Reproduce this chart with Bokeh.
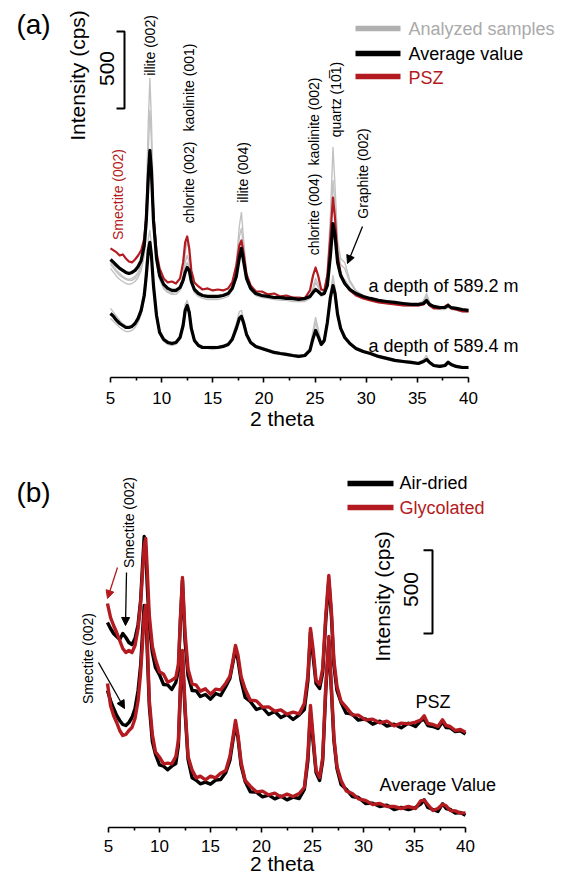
import math
from bokeh.plotting import figure
from bokeh.models import Range1d, FixedTicker, Label, Arrow, NormalHead
from bokeh.layouts import column
from bokeh.embed import file_html
from bokeh.resources import INLINE

# ---------------- DATA ----------------
X_TICKS = [5, 10, 15, 20, 25, 30, 35, 40]
X_MINOR = [7.5, 12.5, 17.5, 22.5, 27.5, 32.5, 37.5]

# Panel (a): 2-theta grid and intensities (cps, stacked as plotted)
TWO_THETA_A = [5.0, 5.3, 5.6, 5.9, 6.2, 6.5, 6.8, 7.1, 7.4, 7.7,
               8.0, 8.3, 8.5, 8.7, 8.85, 9.0, 9.2, 9.5, 9.8, 10.2,
               10.6, 11.0, 11.4, 11.8, 12.1, 12.3, 12.5, 12.7, 12.9, 13.2,
               13.6, 14.0, 14.5, 15.0, 15.5, 16.0, 16.5, 16.9, 17.3, 17.6,
               17.8, 18.0, 18.3, 18.7, 19.2, 19.8, 20.4, 21.0, 21.6, 22.2,
               22.8, 23.4, 24.0, 24.5, 24.8, 25.05, 25.3, 25.6, 25.9, 26.2,
               26.5, 26.75, 26.95, 27.2, 27.5, 27.9, 28.4, 29.0, 29.7, 30.4,
               31.2, 32.0, 32.8, 33.6, 34.4, 35.1, 35.6, 35.9, 36.2, 36.6,
               37.2, 37.7, 38.0, 38.3, 38.8, 39.4, 40.0]

AVG_5892 = [767, 748, 728, 709, 696, 683, 676, 683, 696, 722,
            761, 858, 1021, 1313, 1476, 1346, 1021, 774, 663, 605,
            579, 566, 566, 585, 631, 683, 715, 696, 624, 572,
            546, 533, 527, 527, 527, 533, 546, 579, 657, 780,
            839, 761, 644, 579, 546, 533, 527, 520, 520, 514,
            514, 507, 514, 527, 553, 572, 559, 540, 546, 598,
            793, 1001, 923, 748, 663, 611, 572, 546, 527, 514,
            501, 494, 488, 481, 475, 475, 481, 501, 475, 462,
            455, 455, 468, 455, 449, 442, 436]

PSZ_5892 = [839, 826, 813, 793, 800, 774, 754, 748, 767, 793,
            826, 904, 1053, 1333, 1463, 1346, 1053, 813, 709, 644,
            618, 624, 611, 644, 748, 878, 917, 839, 696, 618,
            592, 572, 579, 566, 572, 566, 579, 618, 728, 858,
            891, 813, 670, 598, 560, 559, 540, 546, 527, 533,
            520, 520, 514, 566, 663, 715, 663, 572, 566, 663,
            923, 1170, 1034, 793, 676, 611, 566, 533, 514, 501,
            488, 481, 475, 468, 468, 468, 475, 494, 468, 449,
            449, 462, 475, 449, 442, 429, 429]

SAMPLE1_5892 = [748, 722, 696, 676, 657, 644, 637, 644, 657, 683,
                735, 891, 1151, 1671, 1944, 1671, 1118, 774, 644, 579,
                553, 546, 553, 585, 663, 806, 891, 813, 657, 572,
                540, 527, 520, 520, 520, 527, 546, 598, 748, 988,
                1073, 904, 683, 585, 546, 533, 520, 514, 514, 507,
                507, 501, 507, 527, 585, 644, 605, 546, 566, 683,
                1053, 1495, 1248, 891, 774, 748, 631, 566, 533, 514,
                501, 488, 481, 475, 468, 475, 501, 546, 488, 462,
                455, 455, 462, 455, 449, 442, 436]

SAMPLE2_5892 = [735, 709, 683, 663, 650, 637, 631, 631, 644, 670,
                722, 839, 1053, 1476, 1736, 1541, 1073, 774, 650, 585,
                559, 553, 559, 585, 644, 748, 793, 748, 631, 566,
                540, 527, 520, 514, 520, 527, 540, 585, 709, 917,
                969, 852, 663, 579, 546, 527, 520, 514, 507, 501,
                501, 494, 501, 520, 572, 618, 585, 540, 559, 657,
                943, 1281, 1118, 839, 735, 709, 618, 559, 527, 507,
                494, 488, 475, 468, 468, 468, 488, 527, 481, 462,
                449, 449, 462, 449, 442, 436, 429]

SAMPLE3_5892 = [709, 683, 657, 637, 624, 611, 605, 611, 624, 650,
                696, 793, 943, 1216, 1378, 1268, 969, 748, 637, 579,
                553, 540, 540, 566, 618, 709, 748, 722, 611, 553,
                527, 514, 507, 507, 507, 514, 527, 566, 644, 787,
                826, 748, 624, 566, 533, 520, 514, 507, 501, 501,
                494, 494, 494, 514, 553, 579, 559, 527, 540, 605,
                813, 988, 904, 735, 657, 637, 585, 546, 520, 501,
                488, 481, 475, 468, 462, 462, 481, 514, 475, 455,
                442, 442, 455, 442, 436, 429, 423]

AVG_5894 = [416, 397, 371, 351, 338, 325, 325, 332, 351, 384,
            436, 533, 663, 826, 878, 793, 598, 403, 293, 247,
            228, 221, 228, 260, 338, 436, 468, 423, 319, 241,
            208, 195, 195, 195, 195, 202, 215, 247, 319, 384,
            397, 358, 280, 228, 202, 189, 176, 163, 156, 150,
            143, 137, 143, 176, 254, 306, 267, 215, 241, 358,
            520, 598, 546, 410, 319, 260, 221, 189, 169, 156,
            137, 124, 111, 104, 98, 91, 104, 117, 98, 78,
            72, 78, 98, 85, 72, 65, 65]

SAMPLE1_5894 = [449, 423, 397, 371, 351, 338, 332, 338, 358, 397,
                462, 579, 748, 904, 956, 858, 631, 416, 306, 254,
                234, 228, 234, 273, 371, 475, 501, 449, 338, 254,
                215, 202, 202, 202, 202, 208, 221, 267, 351, 429,
                436, 384, 293, 234, 208, 195, 182, 169, 163, 156,
                150, 143, 150, 189, 306, 390, 319, 228, 247, 371,
                553, 663, 585, 436, 332, 273, 228, 195, 176, 163,
                143, 130, 117, 111, 104, 98, 117, 143, 104, 85,
                78, 85, 111, 91, 78, 72, 72]

SAMPLE2_5894 = [384, 364, 345, 325, 312, 299, 299, 306, 325, 358,
                410, 514, 644, 787, 826, 748, 566, 384, 280, 234,
                215, 208, 215, 247, 345, 455, 481, 436, 312, 234,
                202, 189, 189, 182, 189, 195, 208, 241, 319, 397,
                410, 364, 273, 221, 195, 182, 169, 156, 150, 143,
                137, 130, 137, 169, 273, 358, 293, 208, 228, 345,
                527, 631, 566, 416, 312, 254, 215, 182, 163, 150,
                130, 117, 104, 98, 91, 85, 98, 117, 91, 72,
                65, 72, 91, 78, 65, 59, 59]

# Panel (b): 2-theta grid and intensities (cps, stacked as plotted)
TWO_THETA_B = [4.9, 5.2, 5.5, 5.8, 6.1, 6.4, 6.7, 7.0, 7.3, 7.6,
               7.9, 8.15, 8.35, 8.5, 8.65, 8.8, 9.0, 9.3, 9.6, 10.0,
               10.4, 10.8, 11.2, 11.6, 11.85, 12.05, 12.25, 12.5, 12.8, 13.2,
               13.6, 14.0, 14.5, 15.0, 15.5, 16.0, 16.5, 16.9, 17.2, 17.45,
               17.7, 18.0, 18.4, 18.9, 19.5, 20.1, 20.7, 21.3, 21.9, 22.5,
               23.1, 23.7, 24.2, 24.55, 24.8, 25.05, 25.35, 25.7, 26.0, 26.3,
               26.6, 26.85, 27.1, 27.4, 27.8, 28.3, 28.9, 29.5, 30.2, 30.9,
               31.6, 32.3, 33.0, 33.7, 34.4, 35.1, 35.6, 35.95, 36.3, 36.8,
               37.3, 37.75, 38.1, 38.5, 39.0, 39.5, 40.0]

PSZ_AIR = [1230, 1194, 1164, 1146, 1128, 1164, 1140, 1110, 1098, 1134,
           1218, 1362, 1590, 1746, 1674, 1452, 1212, 1050, 960, 916,
           858, 856, 828, 870, 942, 1242, 1482, 1122, 912, 822,
           820, 786, 798, 770, 804, 792, 846, 894, 990, 1074,
           1002, 882, 780, 756, 708, 720, 678, 696, 660, 678,
           648, 676, 708, 882, 1170, 1032, 864, 834, 930, 1242,
           1482, 1272, 972, 822, 750, 686, 680, 644, 652, 620,
           638, 608, 620, 598, 626, 606, 640, 650, 612, 606,
           594, 634, 600, 598, 576, 580, 560]

PSZ_GLY = [1344, 1260, 1212, 1170, 1122, 1074, 1050, 1062, 1050, 1092,
           1194, 1344, 1542, 1692, 1734, 1542, 1272, 1086, 1010, 934,
           920, 872, 884, 900, 978, 1254, 1500, 1170, 950, 862,
           854, 818, 832, 800, 830, 826, 866, 906, 1002, 1092,
           1032, 906, 830, 764, 760, 722, 724, 698, 706, 680,
           692, 682, 744, 912, 1194, 1074, 882, 858, 954, 1272,
           1512, 1302, 1002, 846, 756, 722, 676, 674, 646, 650,
           628, 638, 610, 626, 622, 632, 644, 670, 624, 618,
           606, 646, 612, 606, 582, 588, 572]

AVG_AIR = [822, 762, 714, 672, 642, 618, 612, 630, 660, 714,
           822, 972, 1182, 1332, 1302, 1062, 732, 516, 440, 376,
           368, 346, 368, 384, 492, 822, 1032, 702, 408, 298,
           284, 262, 272, 260, 284, 288, 330, 402, 522, 618,
           534, 372, 276, 214, 212, 184, 194, 172, 188, 166,
           182, 174, 228, 402, 690, 522, 330, 282, 402, 822,
           1122, 822, 522, 354, 258, 230, 186, 180, 144, 146,
           126, 134, 108, 120, 108, 120, 140, 166, 120, 108,
           96, 142, 114, 108, 86, 90, 74]

AVG_GLY = [864, 732, 672, 630, 582, 552, 558, 582, 600, 654,
           762, 930, 1122, 1272, 1332, 1122, 762, 558, 454, 422,
           382, 386, 382, 426, 522, 852, 1062, 732, 426, 344,
           298, 308, 286, 308, 298, 326, 342, 426, 540, 642,
           552, 390, 282, 248, 214, 218, 196, 206, 184, 200,
           186, 204, 240, 432, 732, 552, 342, 300, 420, 846,
           1146, 846, 540, 366, 282, 220, 204, 172, 162, 138,
           144, 126, 126, 114, 126, 114, 160, 164, 138, 102,
           114, 140, 130, 102, 100, 86, 88]

SCALE_BAR_CPS = 500

# ---------------- STYLE / LAYOUT ----------------
FONT = "Liberation Sans"
RED = "#b31b21"
GRAY = "#c2c2c2"
GRAY_TXT = "#aaaaaa"
W = 563
H_A = 440
H_B = 439


class Panel:
    def __init__(self, px5, px40, py0, cps_per_px, page_top, height,
                 label_standoff, title_standoff):
        self.ppd = (px40 - px5) / 35.0
        self.px5 = px5
        self.py0 = py0
        self.k = cps_per_px
        bottom_border = height - (py0 - page_top)
        self.p = figure(width=W, height=height,
                        x_range=Range1d(self.X(0), self.X(W)),
                        y_range=Range1d(0, self.Y(page_top)),
                        output_backend="svg", toolbar_location=None,
                        y_axis_location=None, min_border=0,
                        min_border_left=0, min_border_right=0,
                        min_border_top=0, min_border_bottom=bottom_border)
        p = self.p
        p.outline_line_color = None
        p.xgrid.visible = False
        p.ygrid.visible = False
        p.background_fill_color = "white"
        p.border_fill_color = "white"
        ax = p.xaxis[0]
        ax.ticker = FixedTicker(ticks=X_TICKS, minor_ticks=X_MINOR)
        ax.bounds = (5, 40)
        ax.axis_line_width = 1.6
        ax.axis_line_color = "black"
        ax.major_tick_line_width = 1.6
        ax.minor_tick_line_width = 1.6
        ax.major_tick_out = 5
        ax.major_tick_in = 0
        ax.minor_tick_out = 3
        ax.minor_tick_in = 0
        ax.major_label_text_font = FONT
        ax.major_label_text_font_size = "17px"
        ax.major_label_text_color = "black"
        ax.major_label_standoff = label_standoff
        ax.major_label_overrides = {t: str(t) for t in X_TICKS}
        ax.axis_label = "2 theta"
        ax.axis_label_text_font = FONT
        ax.axis_label_text_font_size = "21px"
        ax.axis_label_text_font_style = "normal"
        ax.axis_label_text_color = "black"
        ax.axis_label_standoff = title_standoff

    def X(self, px):
        return 5 + (px - self.px5) / self.ppd

    def Y(self, py):
        return (self.py0 - py) * self.k

    def text(self, px, py, s, size, color="black", angle=0.0, align="center",
             baseline="middle"):
        self.p.add_layout(Label(x=self.X(px), y=self.Y(py), text=s,
                                text_font=FONT, text_font_size=f"{size}px",
                                text_color=color, angle=angle,
                                text_align=align, text_baseline=baseline))

    def seg(self, x0, y0, x1, y1, color="black", width=1.6):
        self.p.line([self.X(x0), self.X(x1)], [self.Y(y0), self.Y(y1)],
                    line_color=color, line_width=width)

    def arrow(self, x0, y0, x1, y1, color="black"):
        self.p.add_layout(Arrow(end=NormalHead(size=8, fill_color=color,
                                               line_color=color),
                                x_start=self.X(x0), y_start=self.Y(y0),
                                x_end=self.X(x1), y_end=self.Y(y1),
                                line_color=color, line_width=1.3))

    def scale_bar(self, px, py_bottom, tick_len):
        b = self.Y(py_bottom)
        t = b + SCALE_BAR_CPS
        xb = self.X(px)
        xt = self.X(px - tick_len)
        self.p.line([xt, xb, xb, xt], [t, t, b, b], line_color="black",
                    line_width=2)


V = math.pi / 2

# ---------------- PANEL (a) ----------------
A = Panel(px5=110, px40=468, py0=377, cps_per_px=6.5, page_top=0, height=H_A,
          label_standoff=9, title_standoff=0)
pa = A.p
for s in (SAMPLE1_5892, SAMPLE2_5892, SAMPLE3_5892, SAMPLE1_5894, SAMPLE2_5894):
    pa.line(TWO_THETA_A, s, line_color=GRAY, line_width=1.4, line_join="round")
pa.line(TWO_THETA_A, PSZ_5892, line_color=RED, line_width=2.2, line_join="round")
pa.line(TWO_THETA_A, AVG_5892, line_color="black", line_width=3.2, line_join="round")
pa.line(TWO_THETA_A, AVG_5894, line_color="black", line_width=3.2, line_join="round")

A.text(33, 24, "(a)", 28)
A.text(77, 75, "Intensity (cps)", 21, angle=V)
A.text(106, 68, "500", 21, angle=V)
A.scale_bar(124, 108, 8)

A.seg(355, 28, 400, 28, color="#b0b0b0", width=5.5)
A.seg(355, 53, 400, 53, color="black", width=5.5)
A.seg(355, 76, 400, 76, color=RED, width=5.5)
A.text(408, 28, "Analyzed samples", 18, color=GRAY_TXT, align="left")
A.text(408, 53, "Average value", 18, align="left")
A.text(408, 77, "PSZ", 18, color=RED, align="left")

A.text(149, 45, "illite (002)", 14, angle=V)
A.text(188, 87, "kaolinite (001)", 14, angle=V)
A.text(188, 182, "chlorite (002)", 14, angle=V)
A.text(242, 172, "illite (004)", 14, angle=V)
A.text(313, 121, "kaolinite (002)", 14, angle=V)
A.text(313, 214, "chlorite (004)", 14, angle=V)
A.text(335, 99, "quartz (10\u03051)", 14, angle=V)
A.text(362, 173, "Graphite (002)", 14, angle=V)
A.text(117, 194, "Smectite (002)", 14, color=RED, angle=V)
A.arrow(362, 226, 347, 263)

A.text(368, 285, "a depth of 589.2 m", 18, align="left")
A.text(368, 345, "a depth of 589.4 m", 18, align="left")

# ---------------- PANEL (b) ----------------
B = Panel(px5=108, px40=465, py0=827, cps_per_px=6.0, page_top=H_A, height=H_B,
          label_standoff=7, title_standoff=-3)
pb = B.p
pb.line(TWO_THETA_B, PSZ_AIR, line_color="black", line_width=3.4, line_join="round")
pb.line(TWO_THETA_B, AVG_AIR, line_color="black", line_width=3.4, line_join="round")
pb.line(TWO_THETA_B, PSZ_GLY, line_color=RED, line_width=3.4, line_join="round")
pb.line(TWO_THETA_B, AVG_GLY, line_color=RED, line_width=3.4, line_join="round")

B.text(33, 492, "(b)", 28)
B.seg(347, 483, 393, 483, color="black", width=5.5)
B.seg(347, 507, 393, 507, color=RED, width=5.5)
B.text(399, 482, "Air-dried", 18, align="left")
B.text(399, 507, "Glycolated", 18, color=RED, align="left")

B.text(382, 596, "Intensity (cps)", 21, angle=V)
B.text(410, 589, "500", 21, angle=V)
B.scale_bar(432, 633, 9)

B.text(128, 522, "Smectite (002)", 14, angle=V)
B.text(87, 658, "Smectite (002)", 14, angle=V)
B.arrow(126, 572, 125, 625)
B.arrow(117, 567, 107, 598, color=RED)
B.arrow(98, 662, 124, 708)

B.text(415, 701, "PSZ", 18, align="left")
B.text(379, 784, "Average Value", 18, align="left")

layout = column(pa, pb, spacing=0)
open("out.html", "w").write(file_html(layout, INLINE))
